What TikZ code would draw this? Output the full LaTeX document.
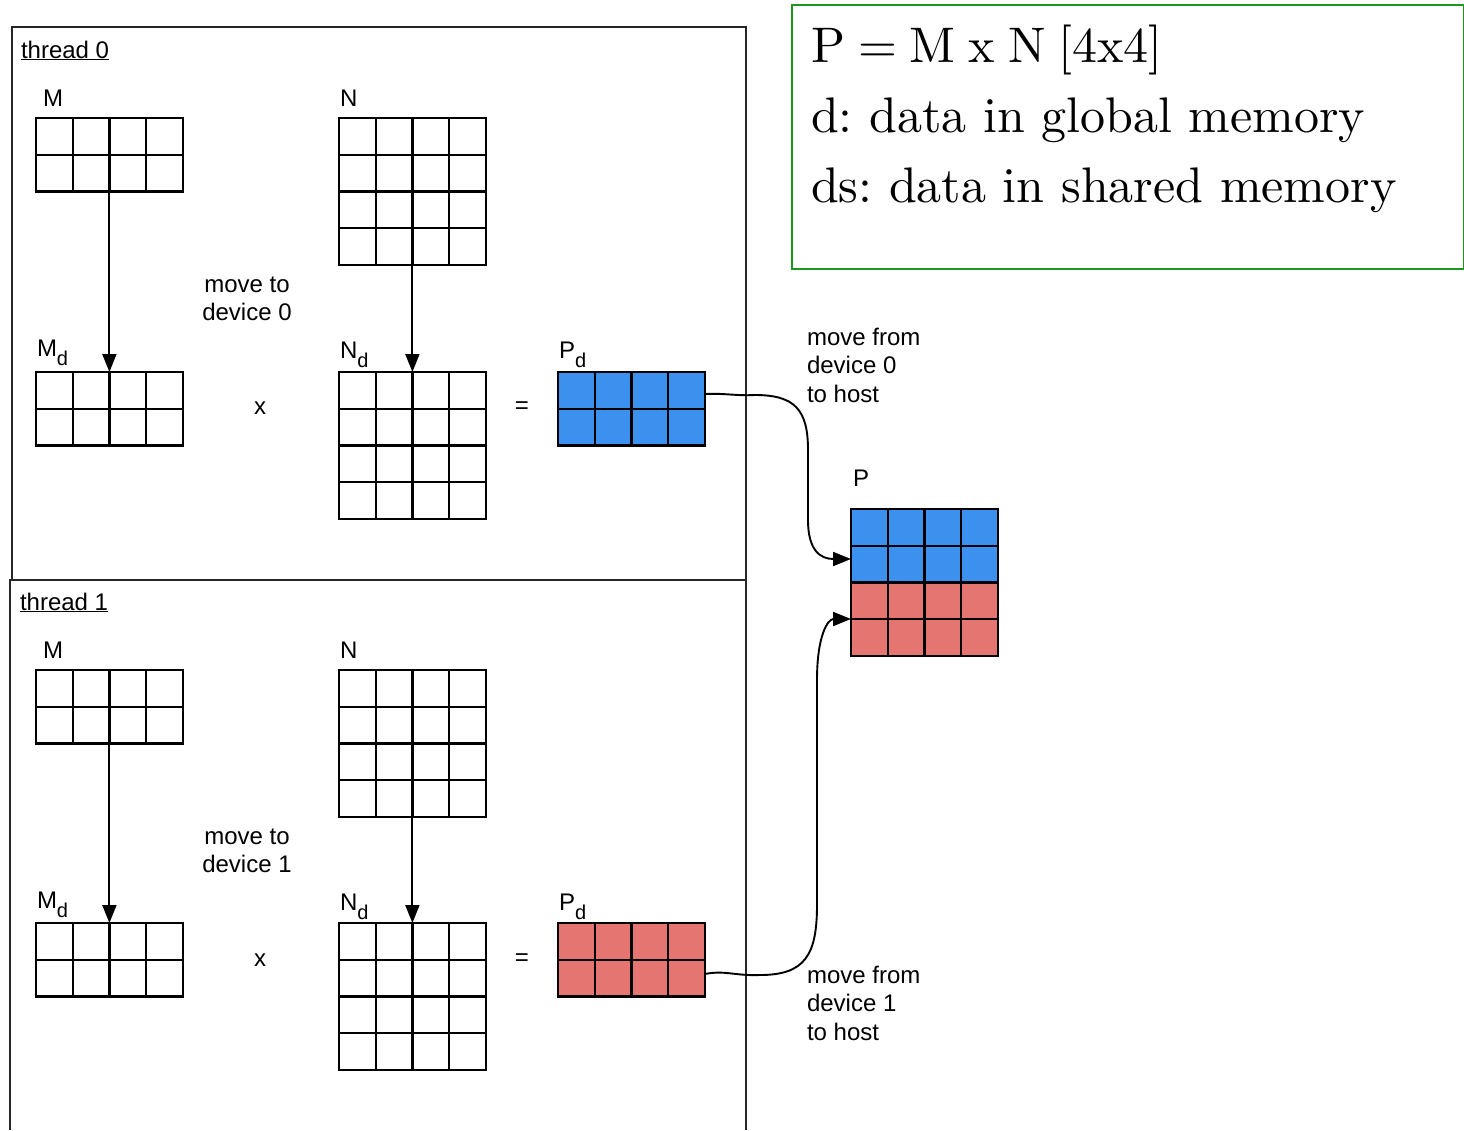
\documentclass[tikz,border=0pt]{standalone}
\usepackage{fontspec}
\newfontfamily\sansf{Liberation Sans}
\newfontfamily\lmten[Extension=.otf]{lmroman10-regular}
\usetikzlibrary{arrows.meta}
\definecolor{cellblue}{RGB}{61,145,238}
\definecolor{cellred}{RGB}{229,117,113}
\definecolor{boxgreen}{RGB}{30,150,30}
\tikzset{
  matbox/.style={draw, line width=2.2pt, inner sep=0pt, outer sep=0pt, minimum width=146.8pt, anchor=north west},
  gridline/.style={line width=2.2pt},
  framebox/.style={line width=1.8pt, draw=black!85},
  lbl/.style={inner sep=0pt, outer sep=0pt, font=\sansf\fontsize{24}{28.5}\selectfont},
  serif/.style={inner sep=0pt, outer sep=0pt, anchor=base west, font=\lmten\frenchspacing\fontsize{50}{60}\selectfont},
  arr/.style={line width=1.9pt, -{Triangle[length=18pt,width=14pt]}},
}
\newcommand\gridmat[5]{%
  \node[matbox, fill=#4, minimum height=#3] (#1) at (#2) {};
  \foreach \i in {1,2,3} \draw[gridline] ([xshift=\i*36.7pt]#1.north west) -- ([xshift=\i*36.7pt]#1.south west);
  \foreach \j in {#5} \draw[gridline] ([yshift=-\j*36.7pt]#1.north west) -- ([yshift=-\j*36.7pt]#1.north east);
}
\newcommand\sublbl[2]{#1\raisebox{-9pt}{\fontsize{20}{20}\selectfont #2}}
\begin{document}
\begin{tikzpicture}[x=1pt,y=-1pt]
\useasboundingbox (0,0) rectangle (1464,1130);
% thread frames
\draw[framebox] (12,580) -- (12,27) -- (746,27) -- (746,580) -- cycle;
\draw[framebox] (10,1130) -- (10,580) -- (746,580) -- (746,1130);
% legend box
\node[draw=boxgreen, line width=1.8pt, minimum width=672pt, minimum height=264pt, anchor=north west, inner sep=0pt] (legend) at (791,4) {};
\node[serif] (l1) at (811,62) {\spaceskip=0.26em\relax P = M x N [4x4]};
\node[serif] (l2) at (811,132) {d: data in global memory};
\node[serif] (l3) at (811,202) {ds: data in shared memory};

% ---- thread 0 ----
\node[lbl, anchor=base west] (t0) at (21,58) {\underline{thread 0}};
\node[lbl, anchor=base west] (Ml0) at (43,106) {M};
\node[lbl, anchor=base west] (Nl0) at (340,106) {N};
\node[lbl, anchor=base west] (Mdl0) at (37,356) {\sublbl{M}{d}};
\node[lbl, anchor=base west] (Ndl0) at (340,358) {\sublbl{N}{d}};
\node[lbl, anchor=base west] (Pdl0) at (559,358) {\sublbl{P}{d}};
\node[lbl] (x0) at (260,408) {x};
\node[lbl] (eq0) at (522,408) {=};
\node[lbl, align=center] (mv0) at (247,299) {move to\\device 0};
\node[lbl, align=left, anchor=west] (mf0) at (807,365) {move from\\device 0\\to host};
\gridmat{M0}{36,118}{73.4pt}{white}{1}
\gridmat{N0}{339,118}{146.8pt}{white}{1,2,3}
\gridmat{Md0}{36,372}{73.4pt}{white}{1}
\gridmat{Nd0}{339,372}{146.8pt}{white}{1,2,3}
\gridmat{Pd0}{558,372}{73.4pt}{cellblue}{1}
\draw[arr] (M0.south) -- (Md0.north);
\draw[arr] (N0.south) -- (Nd0.north);

% ---- thread 1 ----
\node[lbl, anchor=base west] (t1) at (20,610) {\underline{thread 1}};
\node[lbl, anchor=base west] (Ml1) at (43,658) {M};
\node[lbl, anchor=base west] (Nl1) at (340,658) {N};
\node[lbl, anchor=base west] (Mdl1) at (37,908) {\sublbl{M}{d}};
\node[lbl, anchor=base west] (Ndl1) at (340,910) {\sublbl{N}{d}};
\node[lbl, anchor=base west] (Pdl1) at (559,910) {\sublbl{P}{d}};
\node[lbl] (x1) at (260,960) {x};
\node[lbl] (eq1) at (522,960) {=};
\node[lbl, align=center] (mv1) at (247,851) {move to\\device 1};
\node[lbl, align=left, anchor=west] (mf1) at (807,1003) {move from\\device 1\\to host};
\gridmat{M1}{36,670}{73.4pt}{white}{1}
\gridmat{N1}{339,670}{146.8pt}{white}{1,2,3}
\gridmat{Md1}{36,923}{73.4pt}{white}{1}
\gridmat{Nd1}{339,923}{146.8pt}{white}{1,2,3}
\gridmat{Pd1}{558,923}{73.4pt}{cellred}{1}
\draw[arr] (M1.south) -- (Md1.north);
\draw[arr] (N1.south) -- (Nd1.north);

% ---- host result P ----
\node[lbl, anchor=base west] (Pl) at (853,486) {P};
\node[matbox, draw=none, minimum height=146.8pt] (P) at (851,509) {};
\fill[cellblue] (P.north west) rectangle (P.east);
\fill[cellred] (P.west) rectangle (P.south east);
\draw[gridline] (P.north west) rectangle (P.south east);
\foreach \i in {1,2,3} \draw[gridline] ([xshift=\i*36.7pt]P.north west) -- ([xshift=\i*36.7pt]P.south west);
\foreach \j in {1,2,3} \draw[gridline] ([yshift=-\j*36.7pt]P.north west) -- ([yshift=-\j*36.7pt]P.north east);

% transfers to host
\draw[arr] ([yshift=-22pt]Pd0.north east) .. controls (725,393) and (735,396) .. (755,395)
  .. controls (795,395) and (808,410) .. (808,450) -- (808,520)
  .. controls (808,550) and (820,559) .. ([yshift=-50pt]P.north west);
\draw[arr] ([yshift=-51pt]Pd1.north east) .. controls (725,970) and (735,976) .. (760,975)
  .. controls (805,975) and (817,955) .. (817,905) -- (817,680)
  .. controls (817,635) and (828,619) .. ([yshift=-110pt]P.north west);
\end{tikzpicture}
\end{document}
